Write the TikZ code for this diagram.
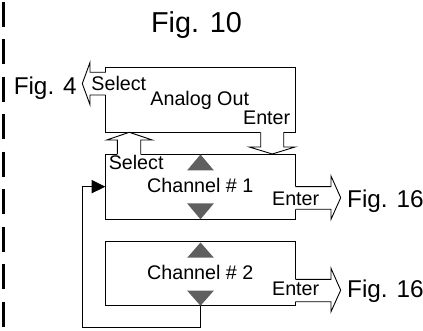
\documentclass[tikz,border=0pt]{standalone}
\usepackage{fontspec}
\setmainfont{Liberation Sans}
\usetikzlibrary{arrows.meta}
\definecolor{tricol}{RGB}{95,95,95}
\begin{document}
\begin{tikzpicture}[x=1pt,y=-1pt, line width=0.9pt,
  box/.style={draw, rectangle, minimum width=190pt, inner sep=0pt},
  lbl/.style={anchor=base west, inner sep=0pt, font=\fontsize{19.7}{22}\selectfont},
  figlbl/.style={anchor=base west, inner sep=0pt, font=\fontsize{24.3}{28}\selectfont},
  trifill/.style={fill=tricol, draw=none},
  hollow/.style={draw, line join=miter},
  gap/.style={fill=white, draw=none}]
\useasboundingbox (0,0) rectangle (423,331);
% dashed divider
\draw[line width=3pt, dash pattern=on 25pt off 12.5pt] (3.2,1.7) -- (3.2,331);
% boxes
\node[box, minimum height=64.6pt] (ao) at (200.7,100) {};
\node[box, minimum height=65.3pt] (ch1) at (200.7,186.65) {};
\node[box, minimum height=64.7pt] (ch2) at (200.7,273.35) {};
% hollow arrow: Select -> Fig. 4
\path[gap] (106.6,72.3) -- (90,72.3) -- (90,62.5) -- (82.3,83.6) -- (90,104.7) -- (90,95) -- (106.6,95) -- cycle;
\draw[hollow] (105.7,72.3) -- (90,72.3) -- (90,62.5) -- (82.3,83.6) -- (90,104.7) -- (90,95) -- (105.7,95);
% hollow arrow: Channel 1 Select -> Analog Out
\path[gap] (117.3,154.9) -- (117.3,140) -- (106.7,140) -- (129.3,132.3) -- (152.3,140) -- (140.7,140) -- (140.7,154.9) -- cycle;
\draw[hollow] (117.3,154) -- (117.3,140) -- (106.7,140) -- (129.3,132.3) -- (152.3,140) -- (140.7,140) -- (140.7,154);
% hollow arrow: Analog Out Enter -> Channel 1
\path[gap] (260.7,131.4) -- (260.7,147) -- (249.3,147) -- (272.3,154) -- (295,147) -- (283.7,147) -- (283.7,131.4) -- cycle;
\draw[hollow] (260.7,132.3) -- (260.7,147) -- (249.3,147) -- (272.3,154) -- (295,147) -- (283.7,147) -- (283.7,132.3);
% hollow arrow: Channel 1 Enter -> Fig. 16
\path[gap] (294.8,186.7) -- (331,186.7) -- (331,176) -- (340.7,197.7) -- (331,219.3) -- (331,209.3) -- (294.8,209.3) -- cycle;
\draw[hollow] (295.7,186.7) -- (331,186.7) -- (331,176) -- (340.7,197.7) -- (331,219.3) -- (331,209.3) -- (295.7,209.3);
% hollow arrow: Channel 2 Enter -> Fig. 16
\path[gap] (294.8,279.3) -- (331,279.3) -- (331,268.3) -- (340.7,290.2) -- (331,311.7) -- (331,301.7) -- (294.8,301.7) -- cycle;
\draw[hollow] (295.7,279.3) -- (331,279.3) -- (331,268.3) -- (340.7,290.2) -- (331,311.7) -- (331,301.7) -- (295.7,301.7);
% up / down triangles
\fill[trifill] (187.2,170.3) -- (200.5,154.5) -- (213.8,170.3) -- cycle;
\fill[trifill] (187.2,203.5) -- (213.8,203.5) -- (200.5,219.3) -- cycle;
\fill[trifill] (187.2,257.7) -- (200.5,242.5) -- (213.8,257.7) -- cycle;
\fill[trifill] (187.2,290.7) -- (213.8,290.7) -- (200.5,305.7) -- cycle;
% feedback loop
\coordinate (lb) at (82.3,327.3);
\draw[-{Triangle[length=13.6pt,width=13.3pt]}] (ch2.south) |- (lb) |- (ch1.west);
% texts
\node[anchor=base west, inner sep=0pt, font=\fontsize{28.8}{32}\selectfont] (title) at (150.7,32.3) {Fig. 10};
\node[figlbl] (f4) at (13.3,94.3) {Fig. 4};
\node[lbl] (s1) at (91,91) {Select};
\node[lbl] (aot) at (150,106) {Analog Out};
\node[lbl] (e1) at (242.7,124.3) {Enter};
\node[lbl] (s2) at (108.3,170) {Select};
\node[lbl] (c1) at (146.7,192.3) {Channel \# 1};
\node[lbl] (e2) at (271.7,205.7) {Enter};
\node[figlbl] (f16a) at (346.7,207.7) {Fig. 16};
\node[lbl] (c2) at (146.7,279.3) {Channel \# 2};
\node[lbl] (e3) at (271.7,295.7) {Enter};
\node[figlbl] (f16b) at (346.7,297.7) {Fig. 16};
\end{tikzpicture}
\end{document}
